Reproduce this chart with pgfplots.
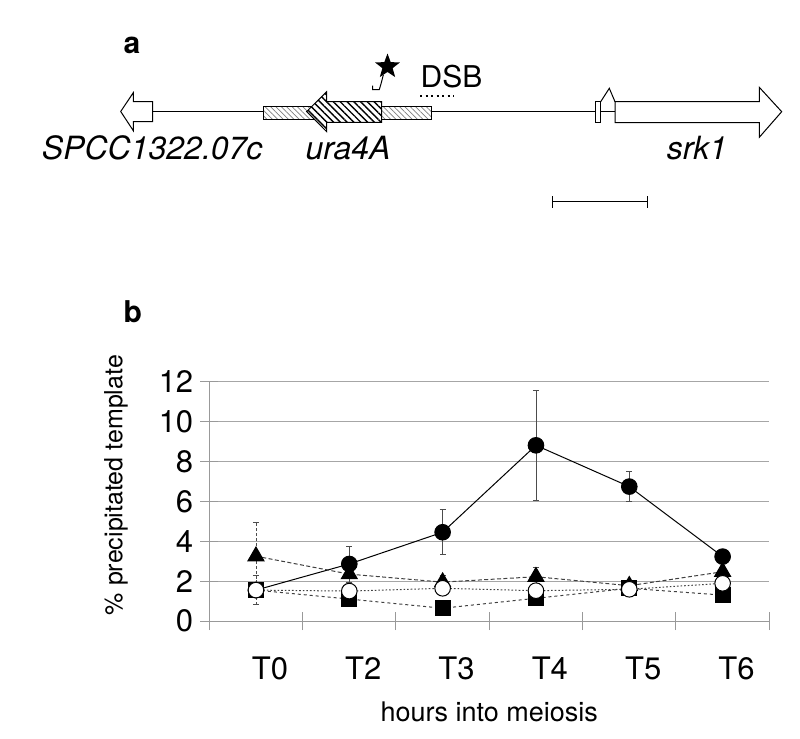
\documentclass[border=0pt]{standalone}
\usepackage{fontspec}
\setmainfont{TeX Gyre Heros}
\usepackage{pgfplots}
\pgfplotsset{compat=1.18}
\usepackage{pgfplotstable}
\usetikzlibrary{patterns.meta, shapes.geometric}

\pgfplotstableread{
x y e
0 1.55 0.00
1 2.86 0.90
2 4.45 1.13
3 8.81 2.74
4 6.74 0.74
5 3.23 0.10
}\fcircle
\pgfplotstableread{
x y e
0 3.25 1.68
1 2.35 0.15
2 1.95 0.35
3 2.22 0.45
4 1.77 0.25
5 2.47 0.10
}\ftri
\pgfplotstableread{
x y e
0 1.55 0.73
1 1.10 0.10
2 0.64 0.10
3 1.14 0.10
4 1.64 0.10
5 1.30 0.10
}\fsquare
\pgfplotstableread{
x y e
0 1.55 0.10
1 1.50 0.10
2 1.64 0.10
3 1.52 0.10
4 1.59 0.10
5 1.89 0.10
}\ocircle

\begin{document}
\begin{tikzpicture}
\begin{scope}[x=0.5pt,y=-0.5pt,line width=0.5pt]
% panel labels
\node[anchor=base west, inner sep=0pt, font=\fontsize{15}{18}\selectfont\bfseries] at (123,54) {a};
\node[anchor=base west, inner sep=0pt, font=\fontsize{15}{18}\selectfont\bfseries] at (123,322) {b};
% main line
\draw (152.7,111.5) -- (263.3,111.5);
\draw (431.7,111.5) -- (615,111.5);
% left gene
\draw[fill=white] (152.7,101.7) -- (133.3,101.7) -- (133.3,92.7) -- (120.7,111.5) -- (133.3,130.7) -- (133.3,121.7) -- (152.7,121.7) -- cycle;
% ura4 flank
\draw[preaction={fill=white}, pattern={Lines[angle=-45,distance=1.9pt,line width=0.35pt]}, pattern color=gray] (263.3,106.7) rectangle (431.7,119);
% ura4A arrow
\draw[preaction={fill=white}, pattern={Lines[angle=-45,distance=2.4pt,line width=0.7pt]}, pattern color=black] (381.7,101.7) -- (326.7,101.7) -- (326.7,91.7) -- (306.7,111.5) -- (326.7,131.7) -- (326.7,122.3) -- (381.7,122.3) -- cycle;
% promoter arrow and star
\draw (372.7,85.5) -- (372.7,89.5) -- (379.3,89.5) .. controls (381,84) .. (383.3,75);
\node[star, star points=5, star point ratio=2.4, fill=black, inner sep=0pt, minimum size=13pt] at (387.5,66.5) {};
% DSB
\node[anchor=base, inner sep=0pt, font=\fontsize{15}{18}\selectfont] at (451.5,87.7) {DSB};
\draw[line width=1pt, dash pattern=on 1pt off 1.75pt] (420,96) -- (454,96);
% srk1
\draw[fill=white] (595,101.7) rectangle (600.7,122.7);
\draw (600.7,101.7) -- (609.3,88.3) -- (615,101.7);
\draw[fill=white] (615,101.7) -- (759.3,101.7) -- (759.3,87.3) -- (781.7,111.7) -- (759.3,137.3) -- (759.3,122.7) -- (615,122.7) -- cycle;
% gene names
\node[anchor=base east, inner sep=0pt, font=\fontsize{16}{19}\selectfont\itshape] at (263,160) {SPCC1322.07c};
\node[anchor=base, inner sep=0pt, font=\fontsize{16}{19}\selectfont\itshape] at (348,160) {ura4A};
\node[anchor=base, inner sep=0pt, font=\fontsize{16}{19}\selectfont\itshape] at (697,160) {srk1};
% scale bar
\draw (552.3,201.7) -- (647.3,201.7);
\draw (552.3,196) -- (552.3,208);
\draw (647.3,196) -- (647.3,208);
\end{scope}

\begin{axis}[
  at={(104.65pt,-310.5pt)}, anchor=south west,
  scale only axis, width=280pt, height=119.65pt,
  xmin=-0.5, xmax=5.5, ymin=0, ymax=12,
  separate axis lines,
  axis x line*=bottom, axis y line*=left,
  axis line style={-, gray!80, line width=0.5pt},
  ytick={0,2,...,12},
  ymajorgrids, grid style={gray!70, line width=0.5pt},
  xtick={-0.5,0.5,...,5.5},
  xticklabels={T0,T2,T3,T4,T5,T6,{}},
  xticklabel style={xshift=30.3pt, yshift=-10pt},
  tick align=center, major tick length=9pt,
  tick style={gray!80, line width=0.5pt},
  tick label style={font=\fontsize{15.5}{18}\selectfont},
  /pgf/number format/assume math mode=true,
  xlabel={hours into meiosis},
  xlabel style={font=\fontsize{13.5}{16}\selectfont, at={(axis description cs:0.5,0)}, anchor=base, yshift=-50pt},
  ylabel={\% precipitated template},
  ylabel style={font=\fontsize{12.5}{15}\selectfont, at={(axis description cs:-0.1666,0.568)}, anchor=center},
  clip=false,
  error bars/y dir=both, error bars/y explicit,
  error bars/error mark options={rotate=90, mark size=1.5pt, line width=0.4pt, solid, draw=black!70},
]
\addplot[black, line width=0.5pt, mark=*, mark size=3.9pt, mark options={solid, fill=black},
  error bars/error bar style={line width=0.4pt, black!70, solid}]
  table[x=x, y=y, y error=e] {\fcircle};
\addplot[black!75, line width=0.5pt, dash pattern=on 2pt off 1.2pt, mark=triangle*, mark size=4.6pt, mark options={solid, fill=black, draw=black},
  error bars/error bar style={line width=0.4pt, black!70, dash pattern=on 1.5pt off 1pt}]
  table[x=x, y=y, y error=e] {\ftri};
\addplot[black!75, line width=0.5pt, dash pattern=on 1.5pt off 1.5pt, mark=square*, mark size=3.75pt, mark options={solid, fill=black, draw=black},
  error bars/error bar style={line width=0.4pt, black!70, dash pattern=on 1pt off 1pt}]
  table[x=x, y=y, y error=e] {\fsquare};
\addplot[black!75, line width=0.5pt, dash pattern=on 0.8pt off 1pt, mark=*, mark size=3.9pt, mark options={solid, fill=white, draw=black},
  error bars/error bar style={line width=0.4pt, black!70, dash pattern=on 0.8pt off 1pt}]
  table[x=x, y=y, y error=e] {\ocircle};
\end{axis}
\pgfresetboundingbox
\path[use as bounding box] (0pt,0pt) rectangle (400pt,-369.5pt);
\end{tikzpicture}
\end{document}
